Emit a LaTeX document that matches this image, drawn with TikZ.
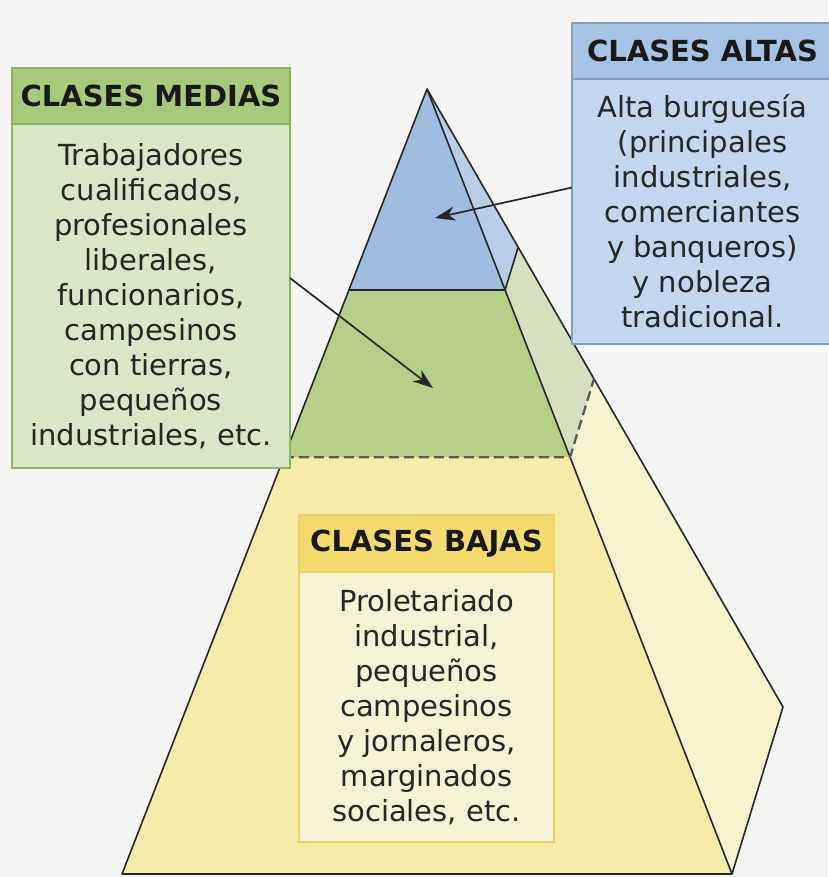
\documentclass[tikz,border=0pt]{standalone}
\usepackage{fontspec}
\setmainfont{DejaVu Sans}
\usetikzlibrary{positioning, calc, arrows.meta}

\definecolor{paper}{HTML}{F5F5F4}
\definecolor{bluefront}{HTML}{9DBCDE}
\definecolor{blueside}{HTML}{B9CEE6}
\definecolor{greenfront}{HTML}{B7CE87}
\definecolor{greenside}{HTML}{D6E0C1}
\definecolor{yellowfront}{HTML}{F6ECAA}
\definecolor{yellowside}{HTML}{F7F3CE}
\definecolor{mediashead}{HTML}{A9C97A}
\definecolor{mediasbody}{HTML}{DAE6C8}
\definecolor{mediasline}{HTML}{8DB55A}
\definecolor{altashead}{HTML}{A6C3E4}
\definecolor{altasbody}{HTML}{C4D5EE}
\definecolor{altasline}{HTML}{7F9FC6}
\definecolor{bajashead}{HTML}{F3DB6E}
\definecolor{bajasbody}{HTML}{F6F2D6}
\definecolor{bajasline}{HTML}{EDD36A}

\tikzstyle{edge} = [draw=black!85, line width=1.6pt, line join=round]
\tikzstyle{level} = [draw=black!65, line width=2.3pt, dash pattern=on 10pt off 5pt]
\tikzstyle{head} = [draw, line width=1.4pt, inner sep=0pt, outer sep=0pt, minimum height=56pt, text centered, font=\fontsize{29}{35}\selectfont\bfseries, text=black!90]
\tikzstyle{body} = [draw, line width=1.4pt, inner sep=0pt, outer sep=0pt, align=center, font=\fontsize{29}{35}\selectfont, text=black!85]
\tikzstyle{pointer} = [draw=black!85, line width=1.7pt, -{Stealth[length=20pt,width=14pt,inset=6pt]}]

\begin{document}
\begin{tikzpicture}[x=1pt, y=-1pt]
		\useasboundingbox (0,0) rectangle (828,877);
		\fill[paper] (0,0) rectangle (828,877);

		% pyramid corners and levels
		\coordinate (apex) at (427,89);
		\coordinate (baseL) at (122,874);
		\coordinate (baseR) at (732,874);
		\coordinate (back) at (783,707);
		\coordinate (L1) at ($(apex)!0.256!(baseL)$);
		\coordinate (R1) at ($(apex)!0.256!(baseR)$);
		\coordinate (B1) at ($(apex)!0.256!(back)$);
		\coordinate (L2) at ($(apex)!0.469!(baseL)$);
		\coordinate (R2) at ($(apex)!0.469!(baseR)$);
		\coordinate (B2) at ($(apex)!0.469!(back)$);

		\fill[bluefront] (apex) -- (L1) -- (R1) -- cycle;
		\fill[greenfront] (L1) -- (L2) -- (R2) -- (R1) -- cycle;
		\fill[yellowfront] (L2) -- (baseL) -- (baseR) -- (R2) -- cycle;
		\fill[blueside] (apex) -- (R1) -- (B1) -- cycle;
		\fill[greenside] (R1) -- (R2) -- (B2) -- (B1) -- cycle;
		\fill[yellowside] (R2) -- (baseR) -- (back) -- (B2) -- cycle;

		\draw[edge] (apex) -- (baseL) -- (baseR) -- cycle;
		\draw[edge] (apex) -- (back) -- (baseR);
		\draw[edge] (L1) -- (R1) -- (B1);
		\draw[level] (L2) -- (R2) -- (B2);

		% boxes
		\node (medias_head) [head, fill=mediashead, draw=mediasline, minimum width=278pt, anchor=north west] at (12,68) {CLASES MEDIAS};
		\node (medias_body) [body, fill=mediasbody, draw=mediasline, minimum width=278pt, minimum height=344pt, below=0pt of medias_head] {Trabajadores\\cualificados,\\profesionales\\liberales,\\funcionarios,\\campesinos\\con tierras,\\pequeños\\industriales, etc.};

		\node (altas_head) [head, fill=altashead, draw=altasline, minimum width=261pt, anchor=north west] at (572,23) {CLASES ALTAS};
		\node (altas_body) [body, fill=altasbody, draw=altasline, minimum width=261pt, minimum height=265pt, below=0pt of altas_head] {Alta burguesía\\(principales\\industriales,\\comerciantes\\y banqueros)\\y nobleza\\tradicional.};

		\node (bajas_head) [head, fill=bajashead, draw=bajasline, minimum width=255pt, minimum height=57pt, anchor=north west] at (299,515) {CLASES BAJAS};
		\node (bajas_body) [body, fill=bajasbody, draw=bajasline, minimum width=255pt, minimum height=270pt, below=0pt of bajas_head] {Proletariado\\industrial,\\pequeños\\campesinos\\y jornaleros,\\marginados\\sociales, etc.};

		% arrows into the pyramid
		\coordinate (altas_tip) at (435,218);
		\coordinate (medias_tip) at (433,388);
		\draw[pointer] ([yshift=24pt]altas_body.west) -- (altas_tip);
		\draw[pointer] ([yshift=18pt]medias_body.east) -- (medias_tip);
\end{tikzpicture}
\end{document}
